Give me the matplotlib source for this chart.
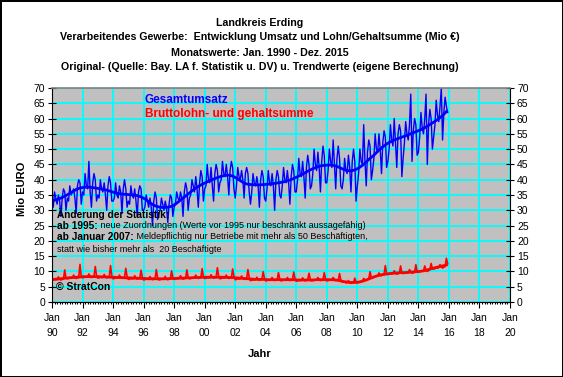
import numpy as np
import matplotlib
matplotlib.use("Agg")
import matplotlib.pyplot as plt
from matplotlib.ticker import MultipleLocator

plt.rcParams['font.family'] = ['Liberation Sans', 'DejaVu Sans']

# Gesamtumsatz, Mio EURO, monthly Jan 1990 - Dec 2015 (one row per year)
umsatz = [
    [33, 31, 36, 34, 32, 35, 33, 28, 34, 37, 36, 30],
    [34, 33, 38, 35, 36, 37, 34, 29, 38, 40, 39, 32],
    [36, 35, 42, 38, 37, 46, 36, 31, 39, 42, 40, 33],
    [35, 34, 40, 37, 36, 39, 35, 30, 38, 41, 39, 33],
    [33, 34, 39, 35, 34, 38, 36, 29, 37, 40, 37, 31],
    [33, 32, 38, 35, 34, 37, 33, 28, 36, 38, 37, 30],
    [30, 31, 35, 33, 31, 34, 31, 25, 33, 36, 34, 27],
    [29, 30, 34, 32, 30, 33, 31, 26, 32, 35, 34, 28],
    [31, 32, 36, 34, 33, 36, 34, 28, 36, 39, 37, 30],
    [34, 35, 40, 38, 36, 41, 37, 31, 39, 43, 41, 33],
    [37, 38, 45, 40, 39, 44, 38, 33, 42, 45, 43, 36],
    [39, 40, 46, 42, 41, 45, 41, 35, 43, 46, 44, 37],
    [34, 38, 44, 41, 40, 43, 40, 34, 42, 44, 42, 36],
    [32, 36, 42, 39, 38, 41, 38, 31, 40, 43, 41, 34],
    [33, 37, 43, 39, 38, 42, 38, 30, 40, 43, 41, 35],
    [34, 38, 44, 40, 39, 43, 39, 32, 41, 45, 43, 36],
    [36, 40, 47, 42, 41, 46, 41, 34, 44, 48, 45, 37],
    [38, 42, 50, 45, 43, 49, 44, 36, 46, 51, 48, 39],
    [39, 43, 50, 46, 44, 53, 45, 37, 47, 51, 47, 38],
    [37, 40, 47, 43, 42, 48, 44, 36, 46, 50, 46, 33],
    [38, 42, 50, 46, 45, 58, 46, 38, 49, 53, 51, 40],
    [43, 47, 55, 50, 49, 55, 50, 42, 52, 56, 54, 44],
    [46, 50, 58, 53, 51, 60, 52, 44, 55, 58, 56, 41],
    [47, 52, 59, 55, 53, 58, 68, 46, 56, 60, 58, 48],
    [49, 54, 62, 57, 55, 60, 68, 45, 58, 63, 60, 50],
    [54, 58, 66, 61, 59, 64, 70, 53, 62, 67, 64, 62],
]

# Brutto-Lohn- und Gehaltsumme, Mio EURO, monthly
lohn = [
    [7.1, 7.2, 7.4, 7.3, 7.4, 8.2, 7.5, 7.2, 7.4, 7.5, 10.5, 7.8],
    [7.6, 7.7, 7.9, 7.8, 7.9, 8.8, 8.0, 7.7, 7.9, 8.0, 12.3, 8.3],
    [7.9, 8.0, 8.2, 8.1, 8.2, 9.2, 8.3, 8.0, 8.2, 8.3, 11.6, 8.6],
    [7.8, 7.9, 8.1, 8.0, 8.1, 9.0, 8.2, 7.9, 8.1, 8.2, 11.9, 8.5],
    [7.6, 7.7, 7.9, 7.8, 7.9, 8.8, 8.0, 7.7, 7.9, 8.0, 11.0, 8.3],
    [7.4, 7.5, 7.7, 7.6, 7.7, 8.6, 7.8, 7.5, 7.7, 7.8, 10.4, 8.1],
    [7.2, 7.3, 7.5, 7.4, 7.5, 8.3, 7.6, 7.3, 7.5, 7.6, 10.6, 7.9],
    [7.2, 7.3, 7.5, 7.4, 7.5, 8.4, 7.6, 7.3, 7.5, 7.6, 10.2, 7.9],
    [7.4, 7.5, 7.7, 7.6, 7.7, 8.6, 7.8, 7.5, 7.7, 7.8, 10.5, 8.1],
    [7.6, 7.7, 7.9, 7.8, 7.9, 8.8, 8.0, 7.7, 7.9, 8.0, 10.9, 8.3],
    [7.7, 7.8, 8.0, 7.9, 8.0, 8.9, 8.1, 7.8, 8.0, 8.1, 11.2, 8.4],
    [7.6, 7.7, 7.9, 7.8, 7.9, 8.8, 8.0, 7.7, 7.9, 8.0, 10.8, 8.3],
    [7.3, 7.4, 7.6, 7.5, 7.6, 8.5, 7.7, 7.4, 7.6, 7.7, 10.6, 8.0],
    [7.0, 7.1, 7.3, 7.2, 7.3, 8.1, 7.4, 7.1, 7.3, 7.4, 9.9, 7.7],
    [6.9, 7.0, 7.2, 7.1, 7.2, 8.0, 7.3, 7.0, 7.2, 7.3, 9.6, 7.6],
    [6.9, 7.0, 7.2, 7.1, 7.2, 8.0, 7.3, 7.0, 7.2, 7.3, 9.8, 7.6],
    [6.8, 6.9, 7.1, 7.0, 7.1, 7.9, 7.2, 6.9, 7.1, 7.2, 9.4, 7.5],
    [6.9, 7.0, 7.2, 7.1, 7.2, 8.0, 7.3, 7.0, 7.2, 7.3, 9.6, 7.6],
    [6.9, 7.0, 7.2, 7.1, 7.2, 8.0, 7.3, 7.0, 7.1, 7.1, 9.3, 7.2],
    [6.6, 6.5, 6.5, 6.3, 6.3, 7.0, 6.3, 6.1, 6.3, 6.4, 7.8, 6.5],
    [6.3, 6.4, 6.6, 6.7, 6.9, 7.7, 7.2, 7.1, 7.4, 7.6, 9.9, 8.0],
    [7.9, 8.1, 8.4, 8.5, 8.6, 9.5, 8.8, 8.6, 8.9, 9.0, 11.9, 9.3],
    [9.0, 9.1, 9.2, 9.2, 9.3, 10.2, 9.4, 9.1, 9.3, 9.4, 11.8, 9.6],
    [9.3, 9.4, 9.6, 9.5, 9.6, 10.6, 9.8, 9.4, 9.6, 9.7, 12.2, 10.0],
    [9.8, 9.9, 10.2, 10.1, 10.2, 11.8, 10.4, 10.0, 10.3, 10.5, 12.6, 10.8],
    [10.8, 10.9, 11.2, 11.1, 11.3, 12.2, 11.5, 11.1, 11.4, 11.6, 14.3, 12.5],
]

# trend values, quarterly
umsatz_trend = [
    33.2, 33.5, 34.0, 34.6, 35.3, 36.0, 36.8, 37.3, 37.5, 37.6, 37.5, 37.3,
    37.1, 36.9, 36.6, 36.2, 35.8, 35.5, 35.3, 35.2, 35.1, 35.0, 34.8, 34.4,
    33.7, 32.8, 31.9, 31.3, 31.0, 30.9, 31.0, 31.3, 32.0, 33.0, 34.0, 35.0,
    36.0, 37.0, 37.8, 38.5, 39.1, 39.7, 40.2, 40.7, 41.1, 41.4, 41.5, 41.2,
    40.5, 39.7, 38.9, 38.5, 38.4, 38.3, 38.3, 38.4, 38.5, 38.6, 38.8, 39.0,
    39.2, 39.5, 39.9, 40.4, 41.0, 41.6, 42.3, 43.0, 43.6, 44.1, 44.5, 44.7,
    44.8, 44.8, 44.5, 44.0, 43.4, 43.0, 42.9, 43.2, 43.8, 44.7, 45.8, 47.0,
    48.0, 49.3, 50.4, 51.4, 52.2, 52.8, 53.3, 53.8, 54.2, 54.7, 55.2, 55.7,
    56.2, 56.8, 57.5, 58.3, 59.1, 60.0, 61.0, 62.3,
]
lohn_trend = [
    7.4, 7.5, 7.6, 7.8, 7.9, 8.0, 8.1, 8.2, 8.3, 8.3, 8.3, 8.3,
    8.3, 8.2, 8.2, 8.1, 8.1, 8.0, 8.0, 7.9, 7.9, 7.8, 7.8, 7.7,
    7.7, 7.6, 7.6, 7.6, 7.6, 7.6, 7.6, 7.7, 7.7, 7.8, 7.8, 7.9,
    7.9, 8.0, 8.0, 8.1, 8.1, 8.1, 8.1, 8.1, 8.1, 8.1, 8.0, 8.0,
    7.9, 7.8, 7.7, 7.6, 7.5, 7.4, 7.4, 7.4, 7.3, 7.3, 7.3, 7.3,
    7.3, 7.3, 7.3, 7.3, 7.2, 7.2, 7.2, 7.2, 7.2, 7.3, 7.3, 7.3,
    7.3, 7.3, 7.2, 7.0, 6.7, 6.5, 6.4, 6.4, 6.5, 6.8, 7.2, 7.7,
    8.2, 8.6, 8.9, 9.1, 9.3, 9.4, 9.5, 9.6, 9.6, 9.7, 9.8, 9.9,
    10.0, 10.2, 10.5, 10.9, 11.2, 11.5, 11.8, 12.1,
]

years = list(range(1990, 2021, 2))

u = np.array(umsatz, dtype=float).ravel()
l = np.array(lohn, dtype=float).ravel()
xm = np.arange(len(u))
xq = np.arange(len(umsatz_trend)) * 3 + 1

fig = plt.figure(figsize=(5.63, 3.77), dpi=100)
fig.patch.set_facecolor('white')
fig.patch.set_edgecolor('black')
fig.patch.set_linewidth(2)

ax = fig.add_axes([52 / 563, 1 - 302 / 377, 458 / 563, 214 / 377])
ax.set_facecolor('#C0C0C0')
ax.set_axisbelow(True)

ax.plot(xm, u, color='#0000FF', lw=1.0)
ax.plot(xq, umsatz_trend, color='#0000FF', lw=2.0)
ax.plot(xm, l, color='#FF0000', lw=1.2)
ax.plot(xq, lohn_trend, color='#FF0000', lw=2.0)

ax.set_xlim(0, 360)
ax.set_ylim(0, 70)
ax.set_xticks([(y - 1990) * 12 for y in years])
ax.set_xticklabels([f"Jan\n{y % 100:02d}" for y in years], fontsize=7.5, linespacing=1.6)
ax.xaxis.set_minor_locator(MultipleLocator(2))
ax.yaxis.set_major_locator(MultipleLocator(5))
ax.tick_params(axis='y', labelsize=7.5, right=True, labelright=True,
               direction='inout', length=6, width=0.8, pad=2)
ax.tick_params(axis='x', direction='out', length=4, width=0.8, pad=4)
ax.tick_params(axis='x', which='minor', direction='out', length=1.5, width=0.8)
ax.grid(True, which='major', color='#00FFFF', lw=1.3)

for s in ['left', 'right', 'bottom']:
    ax.spines[s].set_color('black')
    ax.spines[s].set_linewidth(0.8)
ax.spines['top'].set_color('#808080')
ax.spines['top'].set_linewidth(1.2)

ax.set_ylabel('Mio EURO', fontsize=8, fontweight='bold')
ax.yaxis.set_label_coords(-0.055, 0.53)
fig.text(260 / 563, 1 - 354 / 377, 'Jahr', ha='center', va='center',
         fontsize=8, fontweight='bold')

titles = ["Landkreis Erding",
          "Verarbeitendes Gewerbe:  Entwicklung Umsatz und Lohn/Gehaltsumme (Mio €)",
          "Monatswerte: Jan. 1990 - Dez. 2015",
          "Original- (Quelle: Bay. LA f. Statistik u. DV) u. Trendwerte (eigene Berechnung)"]
for i, t in enumerate(titles):
    fig.text(260 / 563, 1 - (22.5 + 15 * i) / 377, t, ha='center', va='center',
             fontsize=7.7, fontweight='bold')

ax.text(73, 66.2, 'Gesamtumsatz', color='#0000FF', fontsize=8.5,
        fontweight='bold', va='center')
ax.text(73, 61.6, 'Bruttolohn- und gehaltsumme', color='#FF0000', fontsize=8.5,
        fontweight='bold', va='center')

ax.text(4, 28.8, 'Änderung der Statistik:', fontsize=7.3, fontweight='bold', va='center')
t1 = ax.text(4, 25.0, 'ab 1995:', fontsize=7.3, fontweight='bold', va='center')
ax.annotate(' neue Zuordnungen (Werte vor 1995 nur beschränkt aussagefähig)',
            xy=(1, 0.5), xycoords=t1, va='center', fontsize=6.5)
t2 = ax.text(4, 21.3, 'ab Januar 2007:', fontsize=7.3, fontweight='bold', va='center')
ax.annotate(' Meldepflichtig nur Betriebe mit mehr als 50 Beschäftigten,',
            xy=(1, 0.5), xycoords=t2, va='center', fontsize=6.5)
ax.text(4, 17.3, 'statt wie bisher mehr als  20 Beschäftigte', fontsize=6.5, va='center')
ax.text(3, 4.9, '© StratCon', fontsize=7.5, fontweight='bold', va='center')

fig.savefig('out.png', dpi=100)
